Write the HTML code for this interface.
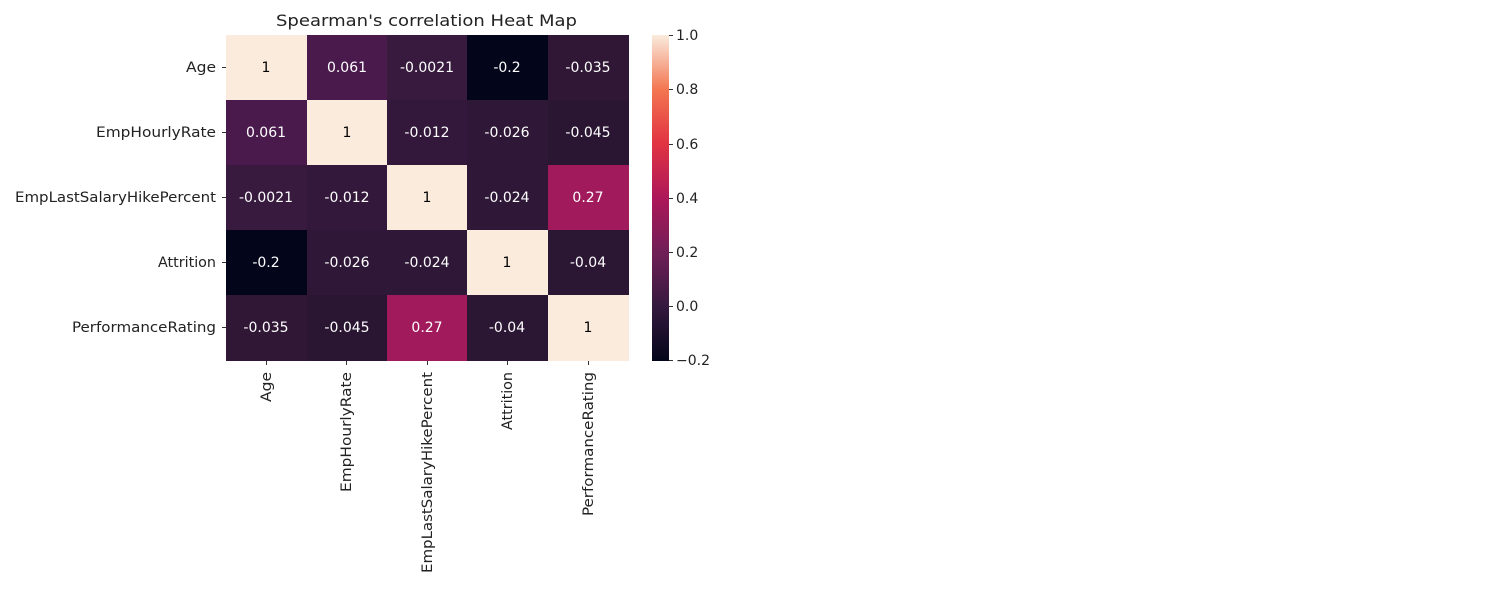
<!DOCTYPE html>
<html><head><meta charset="utf-8"><style>
body{margin:0;background:#fff;width:1491px;height:593px;overflow:hidden}
</style></head><body>
<svg width="1491" height="593" xmlns="http://www.w3.org/2000/svg" font-family="DejaVu Sans, Liberation Sans, sans-serif">
<defs><linearGradient id="cb" x1="0" y1="1" x2="0" y2="0">
<stop offset="0" stop-color="#03051a"/><stop offset="0.167" stop-color="#35193e"/><stop offset="0.333" stop-color="#701f57"/><stop offset="0.5" stop-color="#ad1759"/><stop offset="0.667" stop-color="#e13342"/><stop offset="0.833" stop-color="#f37651"/><stop offset="1" stop-color="#faebdd"/></linearGradient></defs>
<text x="276" y="26" font-size="16" textLength="301" lengthAdjust="spacingAndGlyphs" fill="#222">Spearman's correlation Heat Map</text>
<g font-size="14" text-anchor="middle">
<rect x="226" y="35" width="81" height="65" fill="#faebdd"/><text x="266" y="72">1</text>
<rect x="307" y="35" width="80" height="65" fill="#4b1a4d"/><text x="347" y="72" fill="#fff">0.061</text>
<rect x="387" y="35" width="80" height="65" fill="#381a3e"/><text x="427" y="72" fill="#fff">-0.0021</text>
<rect x="467" y="35" width="81" height="65" fill="#03051a"/><text x="507" y="72" fill="#fff">-0.2</text>
<rect x="548" y="35" width="81" height="65" fill="#2f1735"/><text x="588" y="72" fill="#fff">-0.035</text>
<rect x="226" y="100" width="81" height="65" fill="#4b1a4d"/><text x="266" y="137" fill="#fff">0.061</text>
<rect x="307" y="100" width="80" height="65" fill="#faebdd"/><text x="347" y="137">1</text>
<rect x="387" y="100" width="80" height="65" fill="#34183b"/><text x="427" y="137" fill="#fff">-0.012</text>
<rect x="467" y="100" width="81" height="65" fill="#2f1737"/><text x="507" y="137" fill="#fff">-0.026</text>
<rect x="548" y="100" width="81" height="65" fill="#2a1633"/><text x="588" y="137" fill="#fff">-0.045</text>
<rect x="226" y="165" width="81" height="65" fill="#381a3e"/><text x="266" y="202" fill="#fff">-0.0021</text>
<rect x="307" y="165" width="80" height="65" fill="#34183b"/><text x="347" y="202" fill="#fff">-0.012</text>
<rect x="387" y="165" width="80" height="65" fill="#faebdd"/><text x="427" y="202">1</text>
<rect x="467" y="165" width="81" height="65" fill="#2f1737"/><text x="507" y="202" fill="#fff">-0.024</text>
<rect x="548" y="165" width="81" height="65" fill="#a11a5b"/><text x="588" y="202" fill="#fff">0.27</text>
<rect x="226" y="230" width="81" height="65" fill="#03051a"/><text x="266" y="267" fill="#fff">-0.2</text>
<rect x="307" y="230" width="80" height="65" fill="#2f1737"/><text x="347" y="267" fill="#fff">-0.026</text>
<rect x="387" y="230" width="80" height="65" fill="#2f1737"/><text x="427" y="267" fill="#fff">-0.024</text>
<rect x="467" y="230" width="81" height="65" fill="#faebdd"/><text x="507" y="267">1</text>
<rect x="548" y="230" width="81" height="65" fill="#2b1634"/><text x="588" y="267" fill="#fff">-0.04</text>
<rect x="226" y="295" width="81" height="66" fill="#2f1735"/><text x="266" y="332" fill="#fff">-0.035</text>
<rect x="307" y="295" width="80" height="66" fill="#2a1633"/><text x="347" y="332" fill="#fff">-0.045</text>
<rect x="387" y="295" width="80" height="66" fill="#a11a5b"/><text x="427" y="332" fill="#fff">0.27</text>
<rect x="467" y="295" width="81" height="66" fill="#2b1634"/><text x="507" y="332" fill="#fff">-0.04</text>
<rect x="548" y="295" width="81" height="66" fill="#faebdd"/><text x="588" y="332">1</text>
</g>
<g stroke="#333" stroke-width="1">
<line x1="222" y1="67.5" x2="226" y2="67.5"/><line x1="222" y1="132.5" x2="226" y2="132.5"/><line x1="222" y1="197.5" x2="226" y2="197.5"/><line x1="222" y1="262.5" x2="226" y2="262.5"/><line x1="222" y1="327.5" x2="226" y2="327.5"/>
<line x1="266.5" y1="361" x2="266.5" y2="365"/><line x1="346.5" y1="361" x2="346.5" y2="365"/><line x1="427.5" y1="361" x2="427.5" y2="365"/><line x1="507.5" y1="361" x2="507.5" y2="365"/><line x1="588.5" y1="361" x2="588.5" y2="365"/>
</g>
<g font-size="14" fill="#222">
<text x="186" y="72" textLength="30" lengthAdjust="spacingAndGlyphs">Age</text>
<text x="96" y="137" textLength="120" lengthAdjust="spacingAndGlyphs">EmpHourlyRate</text>
<text x="15" y="202" textLength="201" lengthAdjust="spacingAndGlyphs">EmpLastSalaryHikePercent</text>
<text x="158" y="267" textLength="58" lengthAdjust="spacingAndGlyphs">Attrition</text>
<text x="72" y="332" textLength="144" lengthAdjust="spacingAndGlyphs">PerformanceRating</text>
<text transform="translate(271,402) rotate(-90)" textLength="30" lengthAdjust="spacingAndGlyphs">Age</text>
<text transform="translate(351,492) rotate(-90)" textLength="120" lengthAdjust="spacingAndGlyphs">EmpHourlyRate</text>
<text transform="translate(432,573) rotate(-90)" textLength="201" lengthAdjust="spacingAndGlyphs">EmpLastSalaryHikePercent</text>
<text transform="translate(512,430) rotate(-90)" textLength="58" lengthAdjust="spacingAndGlyphs">Attrition</text>
<text transform="translate(593,516) rotate(-90)" textLength="144" lengthAdjust="spacingAndGlyphs">PerformanceRating</text>
</g>
<rect x="652" y="35" width="17" height="326" fill="url(#cb)"/>
<g stroke="#333"><line x1="669" y1="35.5" x2="673" y2="35.5"/><line x1="669" y1="89.5" x2="673" y2="89.5"/><line x1="669" y1="144.5" x2="673" y2="144.5"/><line x1="669" y1="198.5" x2="673" y2="198.5"/><line x1="669" y1="252.5" x2="673" y2="252.5"/><line x1="669" y1="306.5" x2="673" y2="306.5"/><line x1="669" y1="360.5" x2="673" y2="360.5"/></g>
<g font-size="14" fill="#222">
<text x="676" y="40">1.0</text><text x="676" y="94">0.8</text><text x="676" y="149">0.6</text><text x="676" y="203">0.4</text><text x="676" y="257">0.2</text><text x="676" y="311">0.0</text><text x="676" y="365">−0.2</text>
</g>
</svg>
</body></html>
